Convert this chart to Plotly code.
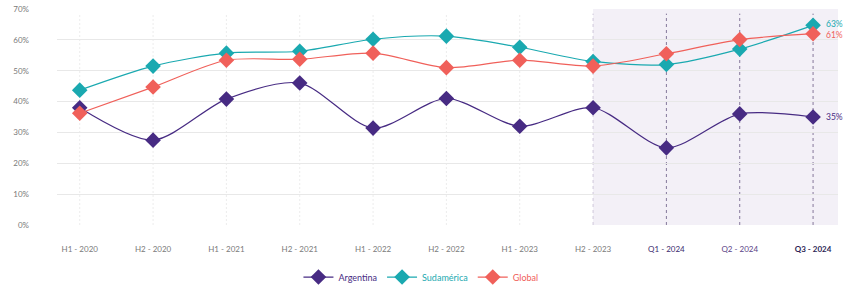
import plotly.graph_objects as go

categories = ["H1 - 2020", "H2 - 2020", "H1 - 2021", "H2 - 2021", "H1 - 2022", "H2 - 2022",
              "H1 - 2023", "H2 - 2023", "Q1 - 2024", "Q2 - 2024", "Q3 - 2024"]
argentina = [38, 27.5, 40.8, 46, 31.4, 41, 32, 38, 25, 36, 35]
sudamerica = [43.7, 51.5, 55.7, 56.3, 60.2, 61.2, 57.6, 53, 52, 57, 64.7]
global_ = [36.2, 44.7, 53.4, 53.7, 55.7, 51, 53.4, 51.5, 55.5, 60.1, 62]
end_labels = ["35%", "63%", "61%"]
y_ticks = [0, 10, 20, 30, 40, 50, 60, 70]

C_ARG = "#472b83"
C_SUD = "#1aa9b0"
C_GLO = "#f0605a"
FONT = "Lato"

fig = go.Figure()

series = [("Argentina", argentina, C_ARG), ("Sudamérica", sudamerica, C_SUD), ("Global", global_, C_GLO)]
for name, vals, col in series:
    fig.add_trace(go.Scatter(
        x=categories, y=vals, mode="lines+markers",
        name=f"<span style='color:{col}'>{name}</span>",
        line=dict(color=col, width=1.2, shape="spline", smoothing=0.8),
        marker=dict(symbol="diamond", size=12, color=col),
        cliponaxis=False,
    ))

# shaded projection region
fig.add_shape(type="rect", xref="x", yref="y", x0=categories[7], x1=10.34, y0=0, y1=70,
              fillcolor="#f3f0f7", line=dict(width=0), layer="below")

# vertical gridlines
for i, c in enumerate(categories):
    if i >= 8:
        col, dash, w = "#85789b", "3px,3px", 1
    elif i == 7:
        col, dash, w = "#cfc7da", "3px,3px", 1
    else:
        col, dash, w = "#ececec", "2px,2px", 1
    fig.add_shape(type="line", xref="x", yref="y", x0=c, x1=c, y0=0, y1=68.5,
                  line=dict(color=col, width=w, dash=dash), layer="below")

# end labels
for (name, vals, col), lab, dy in zip(series, end_labels, [0, 1, -1]):
    fig.add_annotation(x=categories[-1], y=vals[-1], text=lab, showarrow=False,
                       xanchor="left", xshift=12, yshift=dy * 1.5, borderpad=0,
                       font=dict(family=FONT, size=8.5, color=col))

ticktext = []
for i, c in enumerate(categories):
    if i == 8:
        ticktext.append(f"<span style='color:#3b2a6e'>{c}</span>")
    elif i == 9:
        ticktext.append(f"<span style='color:#5a3f86'>{c}</span>")
    elif i == 10:
        ticktext.append(f"<b><span style='color:#2d1f55'>{c}</span></b>")
    else:
        ticktext.append(c)

fig.update_layout(
    width=853, height=288,
    margin=dict(l=57, r=15, t=9, b=63, autoexpand=False),
    paper_bgcolor="white", plot_bgcolor="white",
    font=dict(family=FONT, size=8, color="#7a7a7a"),
    showlegend=True,
    legend=dict(orientation="h", x=0.466, xanchor="center", yref="container", y=0.038,
                yanchor="middle", font=dict(family=FONT, size=9), itemwidth=30),
    xaxis=dict(type="category", range=[-0.31, 10.34], showgrid=False, zeroline=False,
               tickmode="array", tickvals=categories, ticktext=ticktext,
               ticks="", ticklabelstandoff=18, showline=False, automargin=False),
    yaxis=dict(range=[0, 70], tickvals=y_ticks, ticktext=[f"{v}%" for v in y_ticks],
               showgrid=True, gridcolor="#e8e8e8", gridwidth=1, zeroline=False,
               ticks="", ticklabelstandoff=27, showline=False, automargin=False),
)

fig.write_html("out.html", config={"displayModeBar": False},
               post_script="document.body.style.margin='0';")
